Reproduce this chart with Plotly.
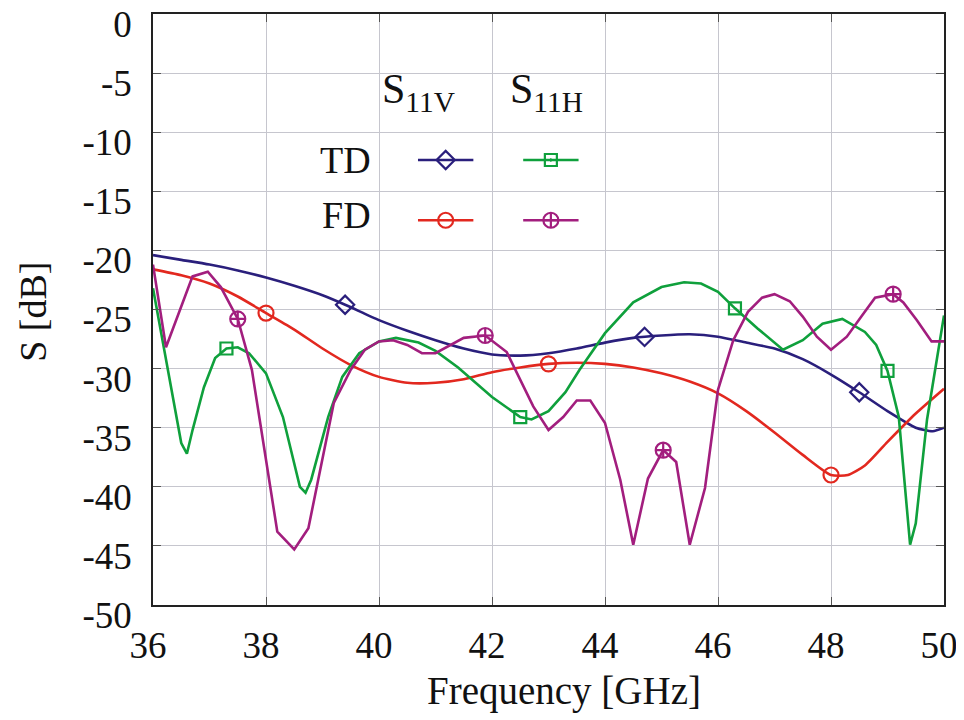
import numpy as np
import plotly.graph_objects as go

# ---------------- data ----------------
td_v_f = [36.0, 36.5, 37.0, 37.5, 38.0, 38.5, 39.0, 39.4, 40.0, 40.5, 41.0, 41.5, 42.0, 42.5,
          43.0, 43.5, 44.0, 44.5, 45.0, 45.5, 46.0, 46.5, 47.0, 47.5, 48.0, 48.5, 49.0, 49.5, 49.8, 50.0]
td_v_s = [-20.4, -20.8, -21.2, -21.7, -22.3, -23.0, -23.8, -24.6, -25.9, -26.8, -27.6, -28.3, -28.8, -28.9,
          -28.7, -28.3, -27.8, -27.4, -27.2, -27.1, -27.3, -27.8, -28.3, -29.2, -30.5, -32.0, -33.6, -35.0, -35.3, -35.0]

fd_v_f = [36.0, 36.5, 37.0, 37.5, 38.0, 38.5, 39.0, 39.5, 40.0, 40.5, 41.0, 41.5, 42.0, 42.5, 43.0,
          43.5, 44.0, 44.5, 45.0, 45.5, 46.0, 46.5, 47.0, 47.5, 48.0, 48.3, 48.6, 49.0, 49.5, 50.0]
fd_v_s = [-21.6, -22.1, -22.8, -23.9, -25.3, -26.7, -28.3, -29.7, -30.7, -31.2, -31.2, -30.9, -30.3, -29.9, -29.6,
          -29.5, -29.6, -29.9, -30.4, -31.1, -32.1, -33.6, -35.4, -37.3, -39.0, -39.0, -38.2, -36.2, -33.8, -31.7]

td_h_f = [36.0, 36.5, 36.6, 36.7, 36.9, 37.1, 37.3, 37.5, 37.7, 38.0, 38.3, 38.6, 38.7, 38.8, 39.1, 39.35,
          39.65, 40.0, 40.3, 40.7, 41.0, 41.4, 42.0, 42.5, 42.7, 43.0, 43.3, 43.55, 44.0, 44.5, 45.0, 45.4,
          45.7, 46.0, 46.3, 46.7, 47.15, 47.5, 47.85, 48.2, 48.6, 48.8, 49.0, 49.2, 49.4, 49.5, 49.7, 50.0]
td_h_s = [-23.2, -36.3, -37.2, -35.2, -31.6, -29.1, -28.3, -28.2, -28.7, -30.4, -34.1, -40.0, -40.5, -39.4, -34.1, -30.7,
          -28.7, -27.7, -27.4, -27.8, -28.5, -29.9, -32.4, -34.1, -34.3, -33.6, -32.0, -30.1, -27.0, -24.4, -23.1, -22.7,
          -22.8, -23.5, -24.9, -26.6, -28.4, -27.6, -26.2, -25.8, -26.9, -28.0, -30.2, -34.1, -44.9, -43.1, -34.3, -25.5]

fd_h_f = [36.0, 36.23, 36.7, 36.97, 37.2, 37.5, 37.75, 38.2, 38.5, 38.75, 39.2, 39.5, 39.75, 40.0, 40.25, 40.5,
          40.76, 41.0, 41.5, 41.88, 42.26, 42.73, 43.0, 43.26, 43.5, 43.74, 44.0, 44.27, 44.5, 44.76, 45.03, 45.26,
          45.5, 45.77, 46.0, 46.27, 46.53, 46.78, 47.0, 47.27, 47.5, 47.75, 48.0, 48.28, 48.55, 48.78, 49.1, 49.28,
          49.52, 49.78, 50.0]
fd_h_s = [-21.2, -28.2, -22.2, -21.8, -23.1, -25.8, -30.1, -43.8, -45.3, -43.5, -32.9, -30.1, -28.4, -27.7, -27.6, -28.0,
          -28.7, -28.7, -27.4, -27.2, -28.6, -33.2, -35.2, -34.1, -32.7, -32.7, -34.6, -39.4, -44.9, -39.3, -36.9, -37.9,
          -44.9, -40.1, -31.8, -27.6, -25.2, -24.0, -23.7, -24.3, -25.6, -27.3, -28.4, -27.3, -25.5, -24.0, -23.7, -24.4,
          -25.9, -27.7, -27.7]

# marker frequencies
td_v_mk = [39.4, 44.7, 48.5]
fd_v_mk = [38.0, 43.0, 48.0]
td_h_mk = [37.3, 42.5, 46.3, 49.0]
fd_h_mk = [37.5, 41.88, 45.03, 49.1]

x_ticks = [36, 38, 40, 42, 44, 46, 48, 50]
y_ticks = [0, -5, -10, -15, -20, -25, -30, -35, -40, -45, -50]

# ---------------- styles ----------------
C_BLUE = "#2a1f7c"
C_RED = "#e2281f"
C_GREEN = "#0fa03c"
C_PURPLE = "#a21e7e"
SERIF = "Liberation Serif"
TXT = "#111111"
LW = 2.6

series = [
    (td_v_f, td_v_s, td_v_mk, C_BLUE, "diamond-open", 14, "spline"),
    (fd_v_f, fd_v_s, fd_v_mk, C_RED, "circle-open", 15, "spline"),
    (td_h_f, td_h_s, td_h_mk, C_GREEN, "square-open", 12, "linear"),
    (fd_h_f, fd_h_s, fd_h_mk, C_PURPLE, "circle-cross-open", 15, "linear"),
]

fig = go.Figure()
for f, s, mk, col, sym, msz, shape in series:
    fig.add_trace(go.Scatter(x=f, y=s, mode="lines", showlegend=False,
                             line=dict(color=col, width=LW, shape=shape, smoothing=0.6)))
for f, s, mk, col, sym, msz, shape in series:
    fig.add_trace(go.Scatter(x=mk, y=np.interp(mk, f, s), mode="markers", showlegend=False,
                             marker=dict(symbol=sym, size=msz, color=col,
                                         line=dict(color=col, width=2.2))))

# ---------------- custom 2x2 legend on a hidden overlay axis ----------------
leg_cols = [0.335, 0.468]   # left ends of sample lines (fraction of plot width)
leg_len = 0.07
leg_rows = [0.753, 0.651]
leg_items = [
    (0, 0, C_BLUE, "diamond-open", 14),
    (1, 0, C_GREEN, "square-open-dot", 12),
    (0, 1, C_RED, "circle-open", 15),
    (1, 1, C_PURPLE, "circle-cross-open", 15),
]
for ci, ri, col, sym, msz in leg_items:
    x0 = leg_cols[ci]
    y0 = leg_rows[ri]
    fig.add_trace(go.Scatter(x=[x0, x0 + leg_len], y=[y0, y0], mode="lines", xaxis="x2", yaxis="y2",
                             showlegend=False, hoverinfo="skip", line=dict(color=col, width=LW)))
    fig.add_trace(go.Scatter(x=[x0 + leg_len / 2], y=[y0], mode="markers", xaxis="x2", yaxis="y2",
                             showlegend=False, hoverinfo="skip",
                             marker=dict(symbol=sym, size=msz, color=col, line=dict(color=col, width=2.2))))

annots = [
    dict(x=0.287, y=0.868, text="S<sub>11V</sub>", xanchor="left", yanchor="middle", size=42),
    dict(x=0.449, y=0.868, text="S<sub>11H</sub>", xanchor="left", yanchor="middle", size=42),
    dict(x=0.278, y=0.753, text="TD", xanchor="right", yanchor="middle", size=38),
    dict(x=0.278, y=0.660, text="FD", xanchor="right", yanchor="middle", size=38),
]
for a in annots:
    sz = a.pop("size")
    a.update(xref="x2", yref="y2", showarrow=False, font=dict(family=SERIF, size=sz, color=TXT))

# axis titles as paper annotations for exact placement
annots.append(dict(xref="paper", yref="paper", x=0.519, y=0, yshift=-86, xanchor="center", yanchor="middle",
                   text="Frequency [GHz]", showarrow=False, font=dict(family=SERIF, size=39, color=TXT)))
annots.append(dict(xref="paper", yref="paper", x=0, y=0.496, xshift=-120, xanchor="center", yanchor="middle",
                   text="S [dB]", textangle=-90, showarrow=False, font=dict(family=SERIF, size=38, color=TXT)))

axis_common = dict(
    showgrid=True, gridcolor="#c6c6ce", gridwidth=1,
    showline=True, linecolor="#222", linewidth=1.5, mirror="ticks",
    ticks="inside", ticklen=8, tickcolor="#555", tickwidth=1.2,
    tickfont=dict(family=SERIF, size=37, color=TXT),
    zeroline=False, automargin=False, ticklabeloverflow="allow",
)

fig.update_layout(
    width=956, height=712,
    margin=dict(l=145, r=20, t=6, b=115),
    paper_bgcolor="white", plot_bgcolor="white",
    font=dict(family=SERIF),
    xaxis=dict(range=[36, 50], tickvals=x_ticks, ticktext=[str(v) for v in x_ticks],
               ticklabelshift=-5, ticklabelstandoff=7, **axis_common),
    yaxis=dict(range=[-50, 0], tickvals=y_ticks, ticktext=[str(v) for v in y_ticks],
               ticklabelshift=10, ticklabelstandoff=12, **axis_common),
    xaxis2=dict(range=[0, 1], overlaying="x", visible=False, fixedrange=True),
    yaxis2=dict(range=[0, 1], overlaying="y", visible=False, fixedrange=True),
    annotations=annots,
)

fig.write_html("out.html")
